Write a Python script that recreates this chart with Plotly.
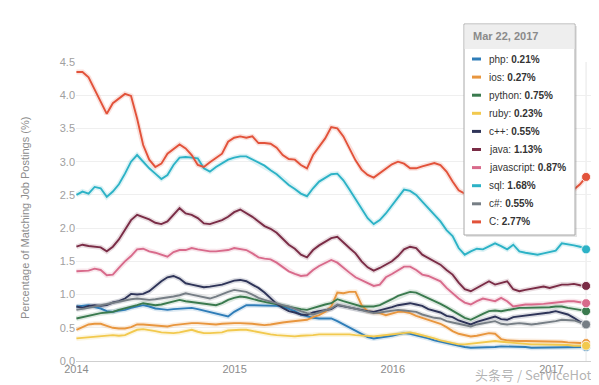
import pandas as pd
import plotly.graph_objects as go

# ---------------- data (biweekly samples, 2014-01-01 .. 2017-03-22) ----------------
start_date = "2014-01-01"
n_points = 85
dates = pd.date_range(start_date, periods=n_points, freq="14D")

php = [0.82, 0.83, 0.84, 0.81, 0.79, 0.75, 0.74, 0.76, 0.77, 0.80, 0.82, 0.84, 0.82, 0.79, 0.78, 0.77, 0.78,
       0.79, 0.80, 0.80, 0.78, 0.76, 0.74, 0.72, 0.70, 0.67, 0.74, 0.79, 0.84, 0.84, 0.84, 0.84, 0.84, 0.83,
       0.82, 0.79, 0.75, 0.70, 0.67, 0.65, 0.64, 0.64, 0.64, 0.60, 0.55, 0.50, 0.45, 0.41, 0.36, 0.34, 0.35,
       0.37, 0.38, 0.40, 0.42, 0.41, 0.39, 0.36, 0.34, 0.31, 0.29, 0.26, 0.24, 0.22, 0.21, 0.20, 0.20, 0.21,
       0.21, 0.21, 0.22, 0.22, 0.21, 0.21, 0.21, 0.20, 0.20, 0.20, 0.20, 0.20, 0.20, 0.20, 0.20, 0.20, 0.21]

ios = [0.47, 0.51, 0.55, 0.56, 0.56, 0.53, 0.50, 0.49, 0.49, 0.51, 0.55, 0.55, 0.54, 0.53, 0.52, 0.52, 0.54,
       0.55, 0.57, 0.57, 0.57, 0.56, 0.56, 0.55, 0.56, 0.57, 0.57, 0.57, 0.57, 0.56, 0.55, 0.54, 0.55, 0.57,
       0.58, 0.59, 0.60, 0.61, 0.62, 0.66, 0.69, 0.74, 0.82, 1.03, 1.02, 1.04, 1.04, 0.84, 0.75, 0.73, 0.72,
       0.69, 0.72, 0.74, 0.74, 0.72, 0.68, 0.65, 0.62, 0.59, 0.56, 0.51, 0.45, 0.41, 0.39, 0.37, 0.38, 0.40,
       0.42, 0.41, 0.33, 0.31, 0.30, 0.30, 0.30, 0.30, 0.30, 0.29, 0.29, 0.29, 0.29, 0.28, 0.27, 0.27, 0.27]

python = [0.64, 0.66, 0.69, 0.70, 0.72, 0.73, 0.74, 0.77, 0.79, 0.82, 0.84, 0.87, 0.86, 0.84, 0.85, 0.87, 0.90,
          0.92, 0.90, 0.89, 0.88, 0.86, 0.85, 0.84, 0.87, 0.92, 0.95, 0.97, 0.96, 0.93, 0.91, 0.89, 0.87, 0.85,
          0.84, 0.82, 0.80, 0.78, 0.77, 0.80, 0.82, 0.85, 0.87, 0.93, 0.90, 0.87, 0.84, 0.82, 0.82, 0.82, 0.84,
          0.88, 0.93, 0.98, 1.01, 1.04, 1.03, 0.99, 0.95, 0.91, 0.86, 0.81, 0.76, 0.70, 0.65, 0.62, 0.67, 0.71,
          0.75, 0.76, 0.75, 0.77, 0.79, 0.80, 0.80, 0.80, 0.80, 0.81, 0.81, 0.82, 0.82, 0.80, 0.79, 0.77, 0.75]

ruby = [0.34, 0.35, 0.36, 0.37, 0.38, 0.39, 0.39, 0.38, 0.39, 0.43, 0.47, 0.48, 0.47, 0.45, 0.43, 0.42, 0.42,
        0.43, 0.45, 0.47, 0.44, 0.42, 0.42, 0.42, 0.43, 0.46, 0.47, 0.47, 0.47, 0.45, 0.43, 0.41, 0.40, 0.39,
        0.38, 0.37, 0.37, 0.38, 0.38, 0.39, 0.40, 0.40, 0.40, 0.41, 0.41, 0.40, 0.39, 0.38, 0.37, 0.37, 0.38,
        0.39, 0.40, 0.42, 0.43, 0.43, 0.41, 0.39, 0.37, 0.34, 0.31, 0.29, 0.28, 0.25, 0.25, 0.26, 0.27, 0.29,
        0.30, 0.30, 0.29, 0.28, 0.27, 0.26, 0.26, 0.25, 0.25, 0.25, 0.24, 0.24, 0.24, 0.24, 0.23, 0.23, 0.23]

cpp = [0.82, 0.80, 0.83, 0.84, 0.83, 0.84, 0.88, 0.90, 0.94, 1.01, 1.00, 1.01, 1.05, 1.13, 1.20, 1.26, 1.28,
       1.24, 1.17, 1.15, 1.13, 1.11, 1.12, 1.13, 1.15, 1.18, 1.21, 1.22, 1.20, 1.15, 1.10, 1.03, 0.95, 0.86,
       0.80, 0.75, 0.73, 0.70, 0.69, 0.73, 0.75, 0.76, 0.78, 0.84, 0.82, 0.80, 0.78, 0.76, 0.75, 0.74, 0.76,
       0.79, 0.81, 0.84, 0.86, 0.87, 0.85, 0.83, 0.78, 0.76, 0.73, 0.68, 0.66, 0.61, 0.58, 0.55, 0.59, 0.62,
       0.65, 0.67, 0.63, 0.62, 0.66, 0.67, 0.68, 0.70, 0.71, 0.72, 0.73, 0.75, 0.72, 0.70, 0.65, 0.59, 0.55]

java = [1.72, 1.75, 1.73, 1.72, 1.71, 1.65, 1.72, 1.83, 1.98, 2.12, 2.20, 2.17, 2.13, 2.08, 2.06, 2.10, 2.20,
        2.30, 2.22, 2.20, 2.15, 2.07, 2.06, 2.09, 2.12, 2.17, 2.24, 2.28, 2.23, 2.17, 2.10, 2.03, 1.99, 1.93,
        1.84, 1.75, 1.69, 1.60, 1.56, 1.67, 1.74, 1.79, 1.85, 1.87, 1.78, 1.70, 1.62, 1.50, 1.41, 1.36, 1.40,
        1.45, 1.50, 1.58, 1.68, 1.72, 1.70, 1.60, 1.55, 1.50, 1.45, 1.37, 1.30, 1.18, 1.08, 1.05, 1.10, 1.14,
        1.20, 1.15, 1.17, 1.20, 1.08, 1.05, 1.07, 1.09, 1.10, 1.12, 1.10, 1.12, 1.15, 1.15, 1.16, 1.14, 1.13]

javascript = [1.35, 1.35, 1.36, 1.39, 1.37, 1.29, 1.30, 1.40, 1.50, 1.58, 1.68, 1.69, 1.65, 1.63, 1.60, 1.57,
              1.64, 1.67, 1.67, 1.70, 1.68, 1.66, 1.65, 1.65, 1.66, 1.67, 1.70, 1.69, 1.67, 1.62, 1.56, 1.54,
              1.53, 1.48, 1.42, 1.35, 1.31, 1.28, 1.29, 1.37, 1.43, 1.48, 1.52, 1.48, 1.40, 1.33, 1.26, 1.22,
              1.17, 1.13, 1.15, 1.26, 1.31, 1.36, 1.42, 1.42, 1.37, 1.30, 1.28, 1.24, 1.20, 1.10, 1.02, 0.94,
              0.88, 0.85, 0.90, 0.94, 0.92, 0.90, 0.95, 0.90, 0.82, 0.84, 0.85, 0.85, 0.85, 0.86, 0.87, 0.88,
              0.90, 0.90, 0.90, 0.89, 0.87]

sql = [2.50, 2.55, 2.52, 2.62, 2.60, 2.47, 2.55, 2.66, 2.82, 3.00, 3.10, 3.00, 2.90, 2.82, 2.74, 2.80, 2.95,
       3.06, 3.07, 3.06, 3.05, 2.90, 2.85, 2.92, 2.98, 3.03, 3.06, 3.08, 3.08, 3.03, 2.98, 2.94, 2.87, 2.81,
       2.73, 2.65, 2.59, 2.52, 2.48, 2.60, 2.70, 2.76, 2.81, 2.82, 2.72, 2.58, 2.44, 2.28, 2.15, 2.06, 2.12,
       2.22, 2.34, 2.46, 2.58, 2.56, 2.50, 2.40, 2.30, 2.20, 2.10, 1.97, 1.88, 1.70, 1.60, 1.65, 1.69, 1.68,
       1.72, 1.77, 1.73, 1.68, 1.75, 1.65, 1.63, 1.62, 1.60, 1.62, 1.64, 1.66, 1.77, 1.76, 1.74, 1.72, 1.68]

csharp = [0.77, 0.78, 0.80, 0.82, 0.84, 0.85, 0.87, 0.89, 0.92, 0.93, 0.94, 0.93, 0.92, 0.93, 0.94, 0.95, 0.97,
          0.99, 1.02, 1.00, 0.98, 0.95, 0.94, 0.97, 1.01, 1.04, 1.07, 1.06, 1.04, 1.00, 0.95, 0.92, 0.89, 0.87,
          0.84, 0.82, 0.78, 0.75, 0.72, 0.70, 0.73, 0.76, 0.79, 0.85, 0.83, 0.80, 0.78, 0.77, 0.75, 0.72, 0.73,
          0.74, 0.76, 0.77, 0.76, 0.75, 0.74, 0.70, 0.67, 0.65, 0.64, 0.60, 0.58, 0.56, 0.53, 0.52, 0.55, 0.57,
          0.59, 0.60, 0.56, 0.55, 0.56, 0.57, 0.56, 0.55, 0.56, 0.57, 0.58, 0.60, 0.62, 0.62, 0.61, 0.58, 0.55]

c_lang = [4.35, 4.35, 4.27, 4.08, 3.90, 3.72, 3.88, 3.95, 4.02, 3.99, 3.65, 3.25, 3.03, 2.92, 2.97, 3.12, 3.19,
          3.26, 3.20, 3.10, 2.95, 2.92, 2.99, 3.05, 3.12, 3.30, 3.36, 3.38, 3.36, 3.38, 3.28, 3.28, 3.27, 3.21,
          3.10, 3.04, 3.03, 2.95, 2.90, 3.10, 3.22, 3.35, 3.52, 3.50, 3.38, 3.20, 3.02, 2.88, 2.80, 2.76, 2.83,
          2.90, 2.96, 3.00, 2.97, 2.90, 2.90, 2.93, 2.96, 2.98, 2.95, 2.85, 2.70, 2.57, 2.52, 2.48, 2.50, 2.55,
          2.50, 2.47, 2.50, 2.55, 2.50, 2.48, 2.52, 2.50, 2.47, 2.50, 2.52, 2.48, 2.50, 2.52, 2.58, 2.66, 2.77]

series_names = ["php", "ios", "python", "ruby", "c++", "java", "javascript", "sql", "c#", "C"]
series_values = [php, ios, python, ruby, cpp, java, javascript, sql, csharp, c_lang]
series_colors = ["#2f7db8", "#e8963e", "#3a7a4e", "#f2c94e", "#2e3458", "#7a2c46",
                 "#d86a8b", "#2cb2c6", "#767e85", "#e2523a"]

y_ticks = [0.0, 0.5, 1.0, 1.5, 2.0, 2.5, 3.0, 3.5, 4.0, 4.5]
x_tick_dates = ["2014-01-01", "2015-01-01", "2016-01-01", "2017-01-01"]
x_tick_labels = ["2014", "2015", "2016", "2017"]
y_title = "Percentage of Matching Job Postings (%)"

# ---------------- layout geometry ----------------
W, H = 599, 385
ML, MR, MT, MB = 68, 14, 54, 32
PW, PH = W - ML - MR, H - MT - MB


def px(xp):
    return (xp - ML) / PW


def py(yp):
    return (H - MB - yp) / PH


FONT = "Liberation Sans, Arial, Helvetica, sans-serif"

fig = go.Figure()

# soft halo under each line
for name, vals, col in zip(series_names, series_values, series_colors):
    fig.add_trace(go.Scatter(x=dates, y=vals, mode="lines", line=dict(color=col, width=5),
                             opacity=0.16, hoverinfo="skip", showlegend=False))
for name, vals, col in zip(series_names, series_values, series_colors):
    fig.add_trace(go.Scatter(x=dates, y=vals, mode="lines", name=name,
                             line=dict(color=col, width=1.9), showlegend=False))
# end markers
for name, vals, col in zip(series_names, series_values, series_colors):
    fig.add_trace(go.Scatter(x=[dates[-1]], y=[vals[-1]], mode="markers",
                             marker=dict(color=col, size=9, line=dict(color="white", width=0.8)),
                             showlegend=False, hoverinfo="skip"))

shapes = []
annotations = []

# crosshair at the hovered date
shapes.append(dict(type="line", xref="x", yref="paper", x0=dates[-1], x1=dates[-1], y0=0, y1=1,
                   line=dict(color="#e6e6e6", width=1), layer="below"))

# tooltip box
bx0, bx1, by0, by1 = 456, 567, 16, 227
shapes.append(dict(type="rect", xref="paper", yref="paper", x0=px(bx0 + 2), x1=px(bx1 + 2),
                   y0=py(by1 + 2), y1=py(by0 + 2), fillcolor="rgba(0,0,0,0.10)", line=dict(width=0),
                   layer="above"))
shapes.append(dict(type="rect", xref="paper", yref="paper", x0=px(bx0), x1=px(bx1),
                   y0=py(by1), y1=py(by0), fillcolor="white", line=dict(color="#a8a8a8", width=1),
                   layer="above"))
shapes.append(dict(type="rect", xref="paper", yref="paper", x0=px(bx0 + 0.5), x1=px(bx1 - 0.5),
                   y0=py(41), y1=py(by0 + 0.5), fillcolor="#eeeeee", line=dict(width=0),
                   layer="above"))
annotations.append(dict(xref="paper", yref="paper", x=px(463), y=py(28), xanchor="left", yanchor="middle",
                        text="<b>" + dates[-1].strftime("%b %d, %Y") + "</b>", showarrow=False,
                        font=dict(family=FONT, size=11, color="#8a8a8a")))
row0, row_step = 51, 18.1
for i, (name, vals, col) in enumerate(zip(series_names, series_values, series_colors)):
    ry = row0 + row_step * i
    shapes.append(dict(type="line", xref="paper", yref="paper", x0=px(464), x1=px(473),
                       y0=py(ry), y1=py(ry), line=dict(color=col, width=3), layer="above"))
    annotations.append(dict(xref="paper", yref="paper", x=px(479), y=py(ry), xanchor="left",
                            yanchor="middle", showarrow=False,
                            text=f"{name}: <b>{vals[-1]:.2f}%</b>",
                            font=dict(family=FONT, size=10, color="#333333")))

# y-axis title as a rotated annotation (placed like the reference)
annotations.append(dict(xref="paper", yref="paper", x=px(17), y=py(210), xanchor="center",
                        yanchor="middle", textangle=-90, showarrow=False, text=y_title,
                        font=dict(family=FONT, size=11, color="#8c8c8c")))

# watermark
annotations.append(dict(xref="paper", yref="paper", x=px(525), y=py(366), xanchor="center",
                        yanchor="middle", showarrow=False, text="头条号 / SerViceHot",
                        font=dict(family="Noto Sans CJK SC", size=13, color="rgba(165,165,165,0.85)")))

fig.update_layout(
    width=W, height=H,
    margin=dict(l=ML, r=MR, t=MT, b=MB, pad=0),
    paper_bgcolor="white", plot_bgcolor="white",
    font=dict(family=FONT, size=11, color="#999999"),
    shapes=shapes, annotations=annotations,
    xaxis=dict(type="date", range=["2013-12-31", "2017-04-07"], tickvals=x_tick_dates,
               ticktext=x_tick_labels, showgrid=False, zeroline=False, showline=False,
               ticks="", tickfont=dict(size=11, color="#8c8c8c"), fixedrange=True),
    yaxis=dict(range=[0, 4.5], tickvals=y_ticks, ticktext=[f"{v:.1f}" for v in y_ticks],
               showgrid=True, gridcolor="#efefef", gridwidth=1, zeroline=True, zerolinecolor="#cfcfcf",
               zerolinewidth=1, showline=False, ticks="", ticklen=4,
               tickfont=dict(size=11, color="#a0a0a0")),
)

fig.write_html("out.html")
